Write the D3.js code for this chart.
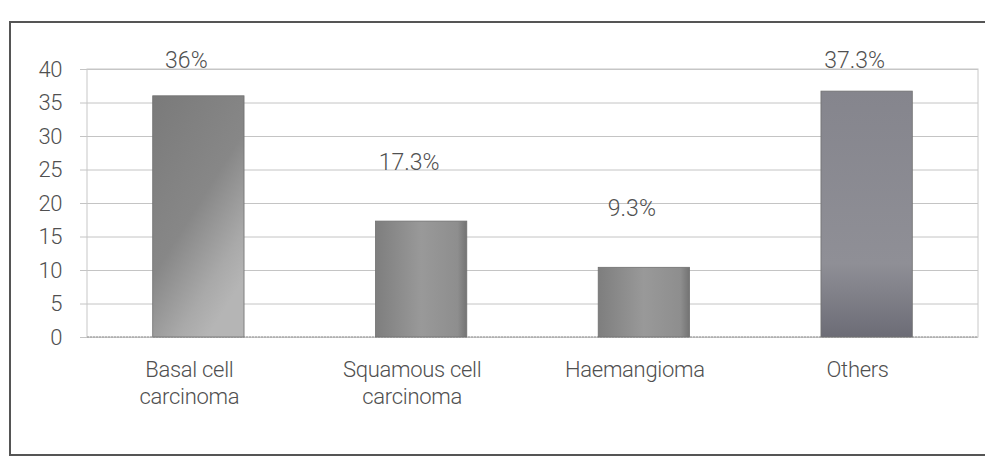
<!DOCTYPE html>
<html>
<head>
<meta charset="utf-8">
<script src="https://cdn.jsdelivr.net/npm/d3@7"></script>
<style>
  body { margin: 0; background: #fff; }
  svg text { font-family: Roboto, "Liberation Sans", sans-serif; font-weight: 300; fill: #505050; }
</style>
</head>
<body>
<div id="chart"></div>
<script>
// values
const categories = ['Basal cell|carcinoma', 'Squamous cell|carcinoma', 'Haemangioma', 'Others'];
const barValues = [36, 17.3, 10.4, 36.7];
const barLabels = ['36%', '17.3%', '9.3%', '37.3%'];
const yTicks = [0, 5, 10, 15, 20, 25, 30, 35, 40];

const width = 985, height = 457;
const plot = {left: 87, right: 978, top: 69, bottom: 337};

const svg = d3.select('#chart').append('svg')
    .attr('width', width)
    .attr('height', height);

const defs = svg.append('defs');

// bar shading, roughly like the scan
const g1 = defs.append('linearGradient').attr('id', 'bar0')
    .attr('x1', 0).attr('y1', 0).attr('x2', 0.6).attr('y2', 1);
g1.append('stop').attr('offset', '0%').attr('stop-color', '#7a7a7a');
g1.append('stop').attr('offset', '55%').attr('stop-color', '#878787');
g1.append('stop').attr('offset', '85%').attr('stop-color', '#a9a9a9');
g1.append('stop').attr('offset', '100%').attr('stop-color', '#b5b5b5');

const gMid = defs.append('linearGradient').attr('id', 'barMid')
    .attr('x1', 0).attr('y1', 0).attr('x2', 1).attr('y2', 0);
gMid.append('stop').attr('offset', '0%').attr('stop-color', '#7e7e7e');
gMid.append('stop').attr('offset', '50%').attr('stop-color', '#999');
gMid.append('stop').attr('offset', '90%').attr('stop-color', '#8e8e8e');
gMid.append('stop').attr('offset', '100%').attr('stop-color', '#737373');

const g4 = defs.append('linearGradient').attr('id', 'bar3')
    .attr('x1', 0).attr('y1', 0).attr('x2', 0).attr('y2', 1);
g4.append('stop').attr('offset', '0%').attr('stop-color', '#85858d');
g4.append('stop').attr('offset', '70%').attr('stop-color', '#8f8f96');
g4.append('stop').attr('offset', '100%').attr('stop-color', '#6c6c76');

const fills = ['url(#bar0)', 'url(#barMid)', 'url(#barMid)', 'url(#bar3)'];

const x = d3.scaleBand()
    .domain(categories)
    .range([plot.left, plot.right])
    .paddingInner(0.59)
    .paddingOuter(0.295);

const y = d3.scaleLinear()
    .domain([0, 40])
    .range([plot.bottom, plot.top]);

// outer frame (scanned page border)
svg.append('path')
    .attr('d', `M ${width + 5} 22 H 10 V 455 H ${width + 5}`)
    .attr('fill', 'none')
    .attr('stroke', '#555')
    .attr('stroke-width', 2);

// gridlines + y axis labels
const yAxis = svg.append('g')
    .attr('transform', `translate(${plot.left},0)`)
    .call(d3.axisLeft(y).tickValues(yTicks).tickSize(-(plot.right - plot.left)).tickPadding(25));
yAxis.select('.domain').remove();
yAxis.selectAll('.tick line')
    .attr('x1', -7)
    .attr('stroke', '#c4c4c4');
yAxis.selectAll('.tick text')
    .style('font-size', '22px')
    .style('font-family', 'Roboto, "Liberation Sans", sans-serif')
    .style('letter-spacing', '-0.5px')
    .attr('fill', '#555');

// plot area border
svg.append('rect')
    .attr('x', plot.left).attr('y', plot.top)
    .attr('width', plot.right - plot.left)
    .attr('height', plot.bottom - plot.top)
    .attr('fill', 'none')
    .attr('stroke', '#c8c8c8');

svg.append('line')
    .attr('x1', plot.left).attr('x2', plot.right)
    .attr('y1', y(0)).attr('y2', y(0))
    .attr('stroke', '#999')
    .attr('stroke-dasharray', '2,1');

// bars
svg.selectAll('.bar')
    .data(barValues)
    .enter().append('rect')
    .attr('class', 'bar')
    .attr('x', (d, i) => x(categories[i]))
    .attr('y', d => y(d))
    .attr('width', x.bandwidth())
    .attr('height', d => y(0) - y(d))
    .attr('fill', (d, i) => fills[i])
    .attr('stroke', '#707070')
    .attr('stroke-width', 0.8);

// value labels
svg.selectAll('.val')
    .data(barValues)
    .enter().append('text')
    .attr('class', 'val')
    .attr('x', (d, i) => x(categories[i]) + x.bandwidth() / 2 - 12)
    .attr('y', d => Math.max(y(d) - 57, 62))
    .attr('text-anchor', 'middle')
    .attr('dominant-baseline', 'middle')
    .style('font-size', '23px')
    .text((d, i) => barLabels[i]);

// category labels, two lines where needed
const cat = svg.selectAll('.cat')
    .data(categories)
    .enter().append('text')
    .attr('class', 'cat')
    .attr('text-anchor', 'middle')
    .style('font-size', '22px')
    .style('letter-spacing', '-0.3px');
cat.each(function(c) {
    const lines = c.split('|');
    const cx = x(c) + x.bandwidth() / 2 - 9;
    lines.forEach((line, k) => {
        d3.select(this).append('tspan')
            .attr('x', cx)
            .attr('y', 377 + k * 27)
            .text(line);
    });
});
</script>
</body>
</html>
